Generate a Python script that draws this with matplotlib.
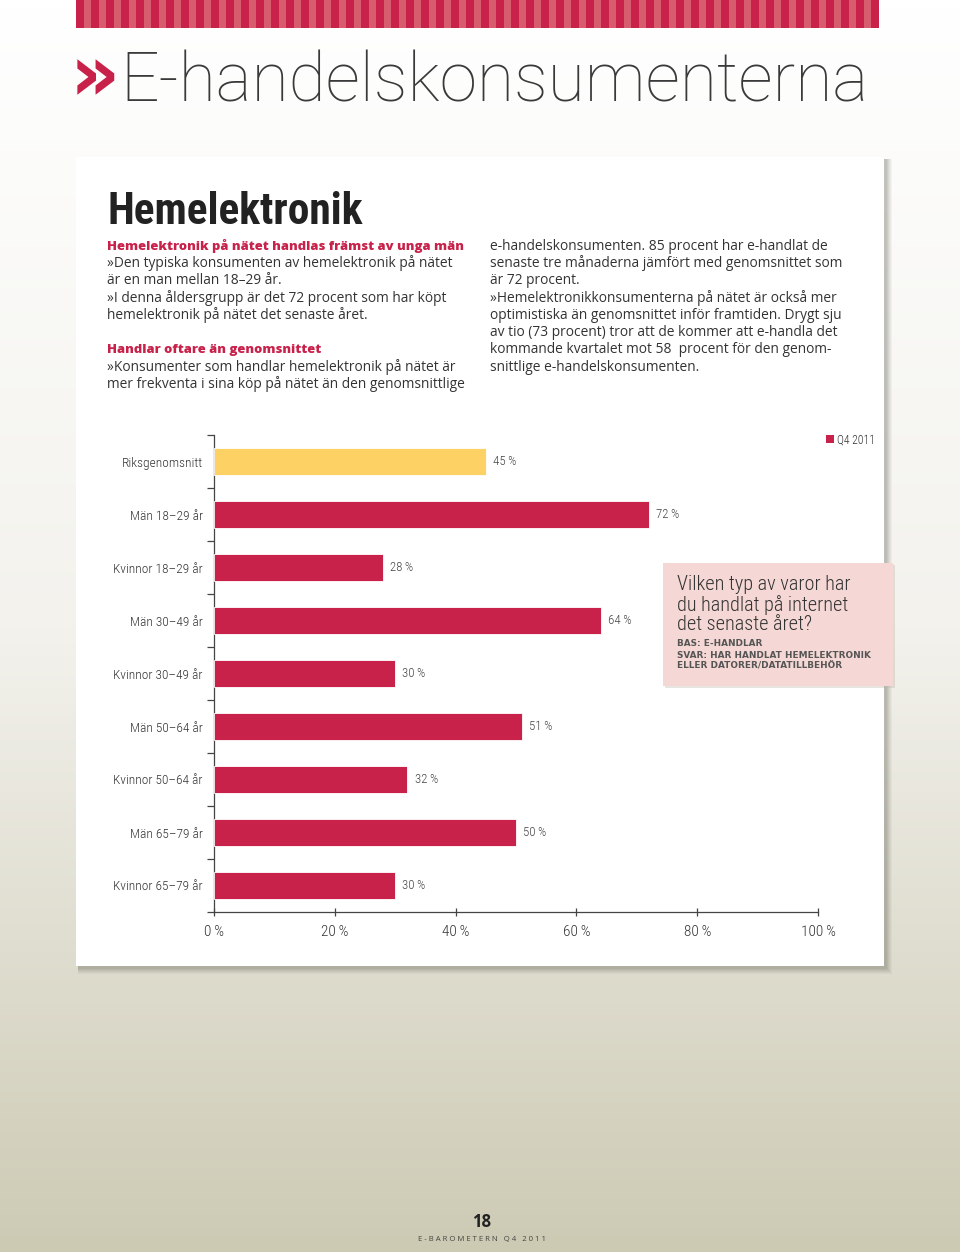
"""E-handelskonsumenterna – Hemelektronik (sida 18, E-barometern Q4 2011)."""
import numpy as np
import matplotlib
matplotlib.use("Agg")
import matplotlib.pyplot as plt
from matplotlib import font_manager as fm
from matplotlib.patches import Rectangle
from matplotlib.colors import LinearSegmentedColormap

# --- data ---
categories = ["Riksgenomsnitt", "Män 18–29 år", "Kvinnor 18–29 år", "Män 30–49 år",
              "Kvinnor 30–49 år", "Män 50–64 år", "Kvinnor 50–64 år",
              "Män 65–79 år", "Kvinnor 65–79 år"]
values = [45, 72, 28, 64, 30, 51, 32, 50, 30]
is_average = [True, False, False, False, False, False, False, False, False]
xticks = [0, 20, 40, 60, 80, 100]
xtick_labels = [f"{v}\u2009%" for v in xticks]
legend_label = "Q4 2011"

RED = "#c8214a"
YELLOW = "#fdd164"
DARK = "#333333"

# typsnitt: ta första som finns installerat
installed = {f.name for f in fm.fontManager.ttflist}
def pick(*cands):
    for c in cands:
        if c in installed:
            return c
    return "DejaVu Sans"

NARROW = [pick("Roboto Condensed", "Barlow Condensed", "Abel", "Liberation Sans Narrow"), "DejaVu Sans"]
NW = 300  # lätt vikt för diagramtexter
HEAVY_NARROW = [pick("Roboto Condensed", "Barlow Condensed", "Fira Sans Condensed",
                     "Archivo Narrow", "PT Sans Narrow", "Liberation Sans Narrow"), "DejaVu Sans"]
BODY = [pick("Open Sans", "Noto Sans"), "DejaVu Sans"]
THIN = [pick("Roboto", "Lato"), "DejaVu Sans"]

W, H = 960, 1252
fig = plt.figure(figsize=(W / 100, H / 100), dpi=100)
renderer = fig.canvas.get_renderer()


def fit_size(s, family, target, weight="normal"):
    """fontstorlek så att texten blir target px bred"""
    t = fig.text(0, 0, s, fontsize=20, family=family, fontweight=weight)
    w = t.get_window_extent(renderer).width
    t.remove()
    return 20 * target / w


# bakgrund i pixelkoordinater
bg = fig.add_axes([0, 0, 1, 1])
bg.set_xlim(0, W); bg.set_ylim(H, 0); bg.axis("off")
cmap = LinearSegmentedColormap.from_list("bg", ["#ffffff", "#f3f2ed", "#cdcab4"])
grad = np.linspace(0, 1, 300)[:, None]
bg.imshow(grad, extent=[0, W, H, 0], aspect="auto", cmap=cmap, zorder=0)

# randig list överst
bg.add_patch(Rectangle((76, 0), 803, 28, color="#d65c6e", lw=0, zorder=1))
for x in np.arange(76, 879, 15):
    bg.add_patch(Rectangle((x, 0), 8, 28, color=RED, lw=0, zorder=2))

# rubrik
bg.text(70, 78, "»", fontsize=56, color=RED, fontweight="bold",
        family="DejaVu Sans", va="center", ha="left", zorder=3)
title = "E-handelskonsumenterna"
bg.text(120, 101, title, fontsize=fit_size(title, THIN, 748, 100), color="#3a3a3a",
        family=THIN, fontweight=100, va="baseline", ha="left", zorder=3)

# vit panel med skugga
for i, a in enumerate([0.05, 0.05, 0.06, 0.07, 0.08, 0.09]):
    off = 8 - i
    bg.add_patch(Rectangle((76 + 2, 157 + 2), 808 + off - 2, 809 + off - 2,
                           color="#5a584c", alpha=a, lw=0, zorder=3))
bg.add_patch(Rectangle((76, 157), 808, 809, color="white", lw=0, zorder=4))

head = "Hemelektronik"
bg.text(107, 224, head, fontsize=fit_size(head, HEAVY_NARROW, 255, "bold"), color="#222222",
        family=HEAVY_NARROW, fontweight="bold", va="baseline", ha="left", zorder=5)

left_col = [
    ("Hemelektronik på nätet handlas främst av unga män", True),
    ("»Den typiska konsumenten av hemelektronik på nätet", False),
    ("är en man mellan 18–29 år.", False),
    ("»I denna åldersgrupp är det 72 procent som har köpt", False),
    ("hemelektronik på nätet det senaste året.", False),
    ("", False),
    ("Handlar oftare än genomsnittet", True),
    ("»Konsumenter som handlar hemelektronik på nätet är", False),
    ("mer frekventa i sina köp på nätet än den genomsnittlige", False),
]
right_col = [
    "e-handelskonsumenten. 85 procent har e-handlat de",
    "senaste tre månaderna jämfört med genomsnittet som",
    "är 72 procent.",
    "»Hemelektronikkonsumenterna på nätet är också mer",
    "optimistiska än genomsnittet inför framtiden. Drygt sju",
    "av tio (73 procent) tror att de kommer att e-handla det",
    "kommande kvartalet mot 58  procent för den genom-",
    "snittlige e-handelskonsumenten.",
]
body_fs = fit_size(left_col[1][0], BODY, 345)
head_fs = fit_size(left_col[0][0], BODY, 356, "heavy")
LH = 17.3
for i, (txt, is_head) in enumerate(left_col):
    bg.text(107, 246 + i * LH, txt, fontsize=head_fs if is_head else body_fs,
            color=RED if is_head else DARK, family=BODY,
            fontweight="heavy" if is_head else "normal", va="center", ha="left", zorder=5)
for i, txt in enumerate(right_col):
    bg.text(490, 246 + i * LH, txt, fontsize=body_fs, color=DARK, family=BODY,
            va="center", ha="left", zorder=5)

# --- stapeldiagram ---
cat_fs = fit_size("Riksgenomsnitt", NARROW, 72, NW) * 1.12
tick_fs = fit_size("100\u2009%", NARROW, 29, NW) * 1.2
val_fs = fit_size("45\u2009%", NARROW, 21, NW) * 1.1

ax = fig.add_axes([214 / W, 1 - 912 / H, 604 / W, 477 / H], zorder=6)
ax.patch.set_alpha(0)
y = np.arange(len(categories))
colors = [YELLOW if a else RED for a in is_average]
ax.barh(y, values, height=0.5, color=colors, edgecolor="white", linewidth=0.6, zorder=3)
for yi, v in zip(y, values):
    ax.text(v + 1.2, yi, f"{v}\u2009%", fontsize=val_fs, color="#444444", family=NARROW,
            fontweight=NW, va="center", ha="left")
ax.set_xlim(0, 100)
ax.set_ylim(len(categories) - 0.5, -0.5)
ax.set_yticks(y)
ax.set_yticklabels(categories, fontsize=cat_fs, color=DARK, family=NARROW, fontweight=NW)
ax.set_yticks(np.arange(-0.5, len(categories), 1), minor=True)
ax.tick_params(axis="y", which="major", length=0, pad=8)
ax.tick_params(axis="y", which="minor", length=5, width=0.9, color="#444444", direction="out")
ax.set_xticks(xticks)
ax.set_xticklabels(xtick_labels, fontsize=tick_fs, color=DARK, family=NARROW, fontweight=NW)
ax.tick_params(axis="x", length=6, width=0.9, color="#444444", direction="inout", pad=6)
for s in ["top", "right"]:
    ax.spines[s].set_visible(False)
for s in ["left", "bottom"]:
    ax.spines[s].set_color("#444444")
    ax.spines[s].set_linewidth(0.9)

# legend
bg.add_patch(Rectangle((826, 435), 8, 8, color=RED, lw=0, zorder=5))
bg.text(837, 440, legend_label, fontsize=fit_size(legend_label, NARROW, 35, NW) * 1.08,
        color=DARK, family=NARROW, fontweight=NW, va="center", ha="left", zorder=5)

# frågeruta
bg.add_patch(Rectangle((665, 565), 230, 123, color="#b9b6a8", alpha=0.35, lw=0, zorder=7))
bg.add_patch(Rectangle((663, 563), 230, 123, color="#f5d8d5", lw=0, zorder=7))
q_lines = ["Vilken typ av varor har", "du handlat på internet", "det senaste året?"]
q_fs = fit_size(q_lines[0], NARROW, 173, NW)
for i, txt in enumerate(q_lines):
    bg.text(677, 585 + i * 20, txt, fontsize=q_fs, color="#333333", family=NARROW,
            fontweight=NW, va="center", ha="left", zorder=8)
b_lines = ["BAS: E-HANDLAR", "SVAR: HAR HANDLAT HEMELEKTRONIK", "ELLER DATORER/DATATILLBEHÖR"]
b_fs = fit_size(b_lines[1], "DejaVu Sans", 193, "bold")
for i, txt in enumerate(b_lines):
    bg.text(677, 644 + i * 11, txt, fontsize=b_fs, color="#555555", family="DejaVu Sans",
            fontweight="bold", va="center", ha="left", zorder=8)

# sidfot
bg.text(482, 1222, "18", fontsize=12, color="#222222", family=BODY,
        fontweight="bold", va="center", ha="center", zorder=5)
foot = "E - B A R O M E T E R N   Q 4   2 0 1 1"
bg.text(482, 1239, foot, fontsize=fit_size(foot, BODY, 128), color="#444444",
        family=BODY, va="center", ha="center", zorder=5)

fig.savefig("out.png", dpi=100)
print("saved out.png")
